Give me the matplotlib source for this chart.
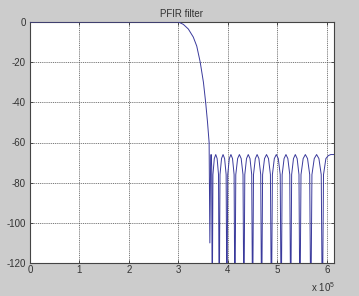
import numpy as np
import matplotlib
matplotlib.use("Agg")
import matplotlib.pyplot as plt
from matplotlib.ticker import FuncFormatter

plt.rcParams['font.family'] = ['Liberation Sans', 'DejaVu Sans']
plt.rcParams['mathtext.fontset'] = 'custom'
plt.rcParams['mathtext.rm'] = 'Liberation Sans'
plt.rcParams['mathtext.it'] = 'Liberation Sans'
plt.rcParams['axes.unicode_minus'] = False

# frequency (kHz) and magnitude (dB)
pass_khz = [0, 300, 310, 320, 330, 337, 344, 350.5, 355.0, 358.8, 362.0,
            363.5, 365.0, 366.0, 367.2]
pass_db = [0, 0, -1.2, -3.5, -7.5, -12, -20, -30, -40, -50, -60,
           -110, -70, -66, -72]

stop_khz = [368.3, 369.7, 372.5, 375.4, 378.2, 381.0,
            382.4, 384.0, 387.1, 390.2, 393.3, 396.4,
            398.0, 399.6, 402.8, 406.1, 409.3, 412.5,
            414.1, 415.9, 419.6, 423.2, 426.8, 430.5,
            432.3, 434.1, 437.6, 441.1, 444.6, 448.1,
            449.9, 451.7, 455.4, 459.0, 462.6, 466.3,
            468.1, 470.1, 474.0, 478.0, 482.0, 485.9,
            487.9, 489.9, 493.8, 497.8, 501.8, 505.7,
            507.7, 509.6, 513.5, 517.3, 521.1, 525.0,
            526.9, 528.8, 532.5, 536.2, 539.9, 543.6,
            545.5, 547.7, 552.1, 556.5, 560.9, 565.3,
            567.5, 569.8, 574.5, 579.2, 583.9, 588.6,
            590.9, 593.2, 598.0, 603.0, 608.0, 614.4]
stop_db = [-150, -76, -68, -66, -68, -76,
           -150, -76, -68, -66, -68, -76,
           -150, -76, -68, -66, -68, -76,
           -150, -76, -68, -66, -68, -76,
           -150, -76, -68, -66, -68, -76,
           -150, -76, -68, -66, -68, -76,
           -150, -76, -68, -66, -68, -76,
           -150, -76, -68, -66, -68, -76,
           -150, -76, -68, -66, -68, -76,
           -150, -76, -68, -66, -68, -76,
           -150, -76, -68, -66, -68, -76,
           -150, -76, -68, -66, -68, -76,
           -150, -76, -68, -66.5, -66, -66]

freq = np.array(pass_khz + stop_khz) * 1e3
mag = np.array(pass_db + stop_db)

x_ticks = [0, 1e5, 2e5, 3e5, 4e5, 5e5, 6e5]
y_ticks = [-120, -100, -80, -60, -40, -20, 0]

fig = plt.figure(figsize=(3.59, 2.96), dpi=100, facecolor='#cccccc')
ax = fig.add_axes([30 / 359, 1 - 263 / 296, 304 / 359, 241 / 296])
ax.set_facecolor('white')

ax.plot(freq, mag, color='#3a3a9c', lw=0.7, zorder=3)

ax.set_xlim(0, 614400)
ax.set_ylim(-120, 0)
ax.set_xticks(x_ticks)
ax.set_yticks(y_ticks)
ax.xaxis.set_major_formatter(FuncFormatter(lambda v, p: f"{v / 1e5:g}"))

ax.grid(True, color='#444444', linestyle=(0, (1.5, 1.2)), lw=0.5)
ax.tick_params(direction='in', length=2.5, width=0.6, top=True, right=True,
               labelsize=7, colors='#333333')
ax.tick_params(axis='y', pad=3)
ax.tick_params(axis='x', pad=1.5)
for s in ax.spines.values():
    s.set_color('#444444')
    s.set_linewidth(0.8)

ax.set_title("PFIR filter", fontsize=7, pad=3.5, color='#333333')
fig.text(335 / 359, 1 - 292 / 296, r"x 10$^{5}$", ha='right', va='baseline',
         fontsize=7, color='#333333')

fig.savefig("out.png", dpi=100, facecolor=fig.get_facecolor())
